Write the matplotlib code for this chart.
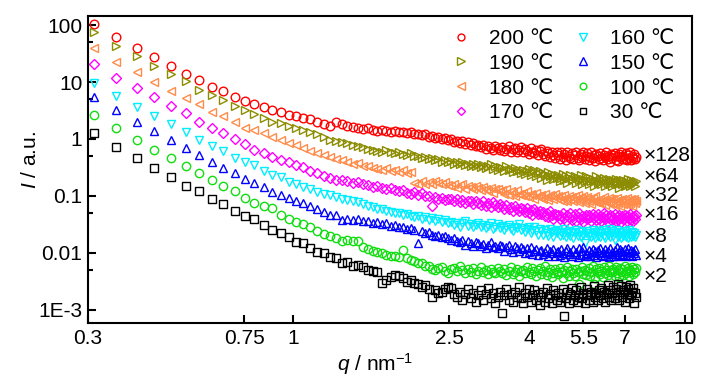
import numpy as np
import matplotlib
matplotlib.use('Agg')
import matplotlib.pyplot as plt
from matplotlib.ticker import FixedLocator, NullLocator

plt.rcParams['font.family'] = ['Liberation Sans', 'DejaVu Sans']
plt.rcParams['mathtext.fontset'] = 'custom'
plt.rcParams['mathtext.it'] = 'Liberation Sans:italic'
plt.rcParams['mathtext.rm'] = 'Liberation Sans'

# scattering vector q (nm^-1)
q = [0.310, 0.354, 0.399, 0.443, 0.487, 0.532, 0.576, 0.620, 0.664, 0.709,
     0.753, 0.797, 0.842, 0.886, 0.930, 0.975, 1.019, 1.063, 1.107, 1.152,
     1.196, 1.240, 1.285, 1.329, 1.373, 1.418, 1.462, 1.506, 1.550, 1.595,
     1.639, 1.683, 1.728, 1.772, 1.816, 1.861, 1.905, 1.949, 1.993, 2.038,
     2.082, 2.126, 2.171, 2.215, 2.259, 2.304, 2.348, 2.392, 2.436, 2.481,
     2.525, 2.569, 2.614, 2.658, 2.702, 2.747, 2.791, 2.835, 2.879, 2.924,
     2.968, 3.012, 3.057, 3.101, 3.145, 3.190, 3.234, 3.278, 3.322, 3.367,
     3.411, 3.455, 3.500, 3.544, 3.588, 3.633, 3.677, 3.721, 3.765, 3.810,
     3.854, 3.898, 3.943, 3.987, 4.031, 4.076, 4.120, 4.164, 4.208, 4.253,
     4.297, 4.341, 4.386, 4.430, 4.474, 4.519, 4.563, 4.607, 4.651, 4.696,
     4.740, 4.784, 4.829, 4.873, 4.917, 4.962, 5.006, 5.050, 5.094, 5.139,
     5.183, 5.227, 5.272, 5.316, 5.360, 5.405, 5.449, 5.493, 5.537, 5.582,
     5.626, 5.670, 5.715, 5.759, 5.803, 5.848, 5.892, 5.936, 5.980, 6.025,
     6.069, 6.113, 6.158, 6.202, 6.246, 6.291, 6.335, 6.379, 6.423, 6.468,
     6.512, 6.556, 6.601, 6.645, 6.689, 6.734, 6.778, 6.822, 6.866, 6.911,
     6.955, 6.999, 7.044, 7.088, 7.132, 7.177, 7.221, 7.265, 7.309, 7.354,
     7.398, 7.442, 7.487]

# intensities (already multiplied by the factor written at the right)
I_200 = [103, 61, 39, 27, 19.3, 14.0, 10.7, 8.3, 6.9, 5.5,
         4.64, 4.11, 3.60, 3.23, 3.01, 2.64, 2.53, 2.31, 2.22, 2.01,
         1.83, 1.71, 1.96, 1.83, 1.66, 1.62, 1.58, 1.52, 1.56, 1.44,
         1.40, 1.45, 1.36, 1.32, 1.38, 1.30, 1.33, 1.27, 1.31, 1.24,
         1.20, 1.16, 1.22, 1.10, 1.13, 1.03, 1.08, 0.98, 1.04, 0.96,
         0.99, 0.90, 0.94, 0.86, 0.92, 0.83, 0.88, 0.78, 0.84, 0.76,
         0.80, 0.72, 0.77, 0.68, 0.75, 0.70, 0.64, 0.74, 0.69, 0.63,
         0.72, 0.62, 0.68, 0.75, 0.60, 0.66, 0.70, 0.58, 0.65, 0.71,
         0.59, 0.67, 0.62, 0.55, 0.69, 0.60, 0.56, 0.65, 0.52, 0.61,
         0.66, 0.54, 0.50, 0.62, 0.57, 0.48, 0.59, 0.53, 0.47, 0.58,
         0.52, 0.45, 0.58, 0.49, 0.55, 0.43, 0.60, 0.50, 0.46, 0.56,
         0.44, 0.53, 0.58, 0.47, 0.42, 0.55, 0.49, 0.60, 0.45, 0.51,
         0.56, 0.43, 0.48, 0.59, 0.46, 0.52, 0.41, 0.54, 0.50, 0.45,
         0.57, 0.47, 0.42, 0.53, 0.49, 0.58, 0.44, 0.51, 0.40, 0.55,
         0.46, 0.52, 0.57, 0.43, 0.50, 0.41, 0.54, 0.48, 0.58, 0.44,
         0.51, 0.45, 0.56, 0.42, 0.53, 0.47, 0.59, 0.43, 0.50, 0.46,
         0.54, 0.44, 0.49]

I_190 = [76, 43.4, 28.6, 19.1, 13.6, 10.4, 7.24, 5.92, 4.83, 3.84,
         3.23, 2.71, 2.36, 2.01, 1.88, 1.71, 1.54, 1.44, 1.34, 1.22,
         1.10, 0.96, 0.92, 0.90, 0.86, 0.80, 0.76, 0.72, 0.68, 0.64,
         0.62, 0.60, 0.63, 0.58, 0.56, 0.59, 0.55, 0.53, 0.56, 0.51,
         0.50, 0.47, 0.49, 0.45, 0.46, 0.42, 0.44, 0.40, 0.43, 0.39,
         0.41, 0.37, 0.39, 0.36, 0.40, 0.35, 0.37, 0.33, 0.36, 0.34,
         0.36, 0.32, 0.35, 0.31, 0.33, 0.37, 0.30, 0.34, 0.29, 0.32,
         0.31, 0.27, 0.33, 0.28, 0.30, 0.26, 0.31, 0.27, 0.29, 0.25,
         0.29, 0.24, 0.27, 0.30, 0.23, 0.26, 0.28, 0.22, 0.25, 0.27,
         0.21, 0.25, 0.23, 0.19, 0.26, 0.22, 0.24, 0.20, 0.23, 0.21,
         0.23, 0.18, 0.21, 0.24, 0.19, 0.22, 0.17, 0.21, 0.23, 0.19,
         0.20, 0.22, 0.17, 0.21, 0.19, 0.23, 0.16, 0.20, 0.18, 0.22,
         0.19, 0.16, 0.21, 0.18, 0.20, 0.15, 0.19, 0.22, 0.17, 0.18,
         0.20, 0.16, 0.18, 0.21, 0.15, 0.19, 0.17, 0.20, 0.16, 0.18,
         0.15, 0.19, 0.17, 0.20, 0.16, 0.18, 0.14, 0.19, 0.17, 0.16,
         0.19, 0.15, 0.18, 0.16, 0.20, 0.17, 0.15, 0.19, 0.16, 0.18,
         0.17, 0.15, 0.18]

I_180 = [39.0, 22.7, 14.8, 10.1, 6.95, 5.31, 4.06, 3.01, 2.56, 2.01,
         1.58, 1.44, 1.26, 1.10, 0.96, 0.86, 0.785, 0.687, 0.624, 0.561,
         0.524, 0.483, 0.446, 0.42, 0.40, 0.37, 0.38, 0.34, 0.33, 0.31,
         0.30, 0.28, 0.31, 0.27, 0.29, 0.26, 0.28, 0.25, 0.26, 0.17,
         0.16, 0.18, 0.165, 0.175, 0.16, 0.185, 0.17, 0.16, 0.175, 0.155,
         0.15, 0.165, 0.14, 0.155, 0.16, 0.135, 0.15, 0.145, 0.13, 0.15,
         0.14, 0.125, 0.145, 0.13, 0.12, 0.14, 0.115, 0.13, 0.135, 0.12,
         0.125, 0.11, 0.13, 0.105, 0.12, 0.115, 0.10, 0.125, 0.11, 0.105,
         0.115, 0.10, 0.12, 0.095, 0.11, 0.105, 0.09, 0.115, 0.10, 0.095,
         0.105, 0.09, 0.11, 0.095, 0.085, 0.105, 0.10, 0.088, 0.11, 0.094,
         0.10, 0.085, 0.098, 0.08, 0.105, 0.09, 0.082, 0.10, 0.088, 0.095,
         0.08, 0.098, 0.087, 0.105, 0.078, 0.092, 0.085, 0.10, 0.076, 0.09,
         0.095, 0.08, 0.088, 0.072, 0.093, 0.083, 0.10, 0.078, 0.086, 0.074,
         0.09, 0.076, 0.085, 0.095, 0.07, 0.083, 0.078, 0.092, 0.073, 0.087,
         0.075, 0.088, 0.07, 0.082, 0.093, 0.074, 0.085, 0.068, 0.08, 0.09,
         0.072, 0.085, 0.078, 0.092, 0.07, 0.083, 0.075, 0.088, 0.068, 0.08,
         0.09, 0.074, 0.082]

I_170 = [20.5, 11.9, 7.94, 5.52, 3.84, 2.82, 2.01, 1.58, 1.26, 1.0,
         0.807, 0.641, 0.575, 0.489, 0.428, 0.40, 0.35, 0.319, 0.278, 0.25,
         0.224, 0.204, 0.191, 0.19, 0.18, 0.17, 0.175, 0.16, 0.155, 0.145,
         0.15, 0.138, 0.13, 0.14, 0.125, 0.12, 0.128, 0.115, 0.108, 0.118,
         0.105, 0.112, 0.098, 0.10, 0.066, 0.097, 0.088, 0.094, 0.085, 0.09,
         0.09, 0.082, 0.087, 0.078, 0.085, 0.074, 0.083, 0.08, 0.072, 0.081,
         0.076, 0.07, 0.08, 0.068, 0.074, 0.065, 0.078, 0.069, 0.063, 0.072,
         0.066, 0.06, 0.07, 0.058, 0.064, 0.055, 0.067, 0.06, 0.054, 0.062,
         0.058, 0.052, 0.061, 0.05, 0.056, 0.047, 0.059, 0.052, 0.049, 0.055,
         0.048, 0.053, 0.045, 0.05, 0.042, 0.055, 0.046, 0.04, 0.049, 0.044,
         0.047, 0.039, 0.045, 0.05, 0.041, 0.036, 0.046, 0.043, 0.051, 0.038,
         0.044, 0.048, 0.037, 0.042, 0.05, 0.039, 0.045, 0.035, 0.043, 0.047,
         0.039, 0.046, 0.042, 0.036, 0.049, 0.041, 0.044, 0.038, 0.048, 0.04,
         0.045, 0.037, 0.043, 0.05, 0.039, 0.046, 0.035, 0.042, 0.047, 0.038,
         0.044, 0.04, 0.048, 0.036, 0.043, 0.038, 0.046, 0.041, 0.035, 0.045,
         0.039, 0.047, 0.042, 0.037, 0.045, 0.04, 0.049, 0.038, 0.043, 0.036,
         0.044, 0.04, 0.046]

I_160 = [9.72, 5.75, 3.69, 2.54, 1.81, 1.34, 0.96, 0.762, 0.615, 0.47,
         0.40, 0.35, 0.278, 0.234, 0.213, 0.178, 0.162, 0.146, 0.131, 0.119,
         0.108, 0.102, 0.095, 0.088, 0.085, 0.082, 0.079, 0.072, 0.068, 0.063,
         0.060, 0.058, 0.055, 0.052, 0.05, 0.05, 0.046, 0.048, 0.044, 0.042,
         0.045, 0.04, 0.043, 0.038, 0.041, 0.037, 0.039, 0.035, 0.038, 0.034,
         0.035, 0.031, 0.034, 0.029, 0.033, 0.036, 0.03, 0.032, 0.028, 0.031,
         0.033, 0.028, 0.031, 0.027, 0.03, 0.034, 0.026, 0.029, 0.032, 0.027,
         0.03, 0.025, 0.028, 0.031, 0.026, 0.024, 0.029, 0.027, 0.032, 0.025,
         0.027, 0.023, 0.026, 0.029, 0.022, 0.025, 0.028, 0.024, 0.021, 0.026,
         0.024, 0.021, 0.025, 0.022, 0.02, 0.026, 0.023, 0.019, 0.024, 0.022,
         0.025, 0.02, 0.023, 0.021, 0.026, 0.019, 0.022, 0.024, 0.02, 0.023,
         0.018, 0.022, 0.025, 0.02, 0.023, 0.019, 0.024, 0.021, 0.015, 0.022,
         0.024, 0.02, 0.022, 0.019, 0.025, 0.021, 0.018, 0.023, 0.02, 0.024,
         0.019, 0.022, 0.025, 0.02, 0.018, 0.023, 0.021, 0.026, 0.019, 0.022,
         0.024, 0.02, 0.017, 0.022, 0.025, 0.019, 0.021, 0.023, 0.018, 0.022,
         0.02, 0.024, 0.019, 0.022, 0.018, 0.025, 0.021, 0.019, 0.023, 0.02,
         0.022, 0.019, 0.021]

I_150 = [5.52, 3.23, 2.01, 1.40, 0.96, 0.703, 0.524, 0.40, 0.313, 0.25,
         0.199, 0.167, 0.142, 0.119, 0.104, 0.091, 0.0828, 0.0745, 0.0668, 0.0585,
         0.0531, 0.0465, 0.0465, 0.0379, 0.040, 0.038, 0.039, 0.036, 0.037, 0.034,
         0.035, 0.032, 0.033, 0.030, 0.031, 0.028, 0.029, 0.026, 0.027, 0.025,
         0.015, 0.024, 0.022, 0.023, 0.021, 0.02, 0.021, 0.019, 0.02, 0.018,
         0.017, 0.018, 0.016, 0.0155, 0.017, 0.014, 0.016, 0.015, 0.0135, 0.0155,
         0.015, 0.013, 0.0145, 0.012, 0.014, 0.0155, 0.0125, 0.0135, 0.012, 0.014,
         0.013, 0.011, 0.0125, 0.014, 0.0115, 0.0105, 0.013, 0.012, 0.0108, 0.0125,
         0.0115, 0.0098, 0.012, 0.0105, 0.0128, 0.0095, 0.011, 0.0118, 0.0092, 0.0108,
         0.0112, 0.0095, 0.0105, 0.0122, 0.009, 0.0108, 0.0098, 0.0118, 0.0088, 0.0102,
         0.011, 0.0092, 0.0118, 0.0098, 0.0085, 0.0107, 0.0122, 0.0094, 0.0103, 0.0088,
         0.0115, 0.0097, 0.0105, 0.0086, 0.012, 0.0093, 0.0109, 0.0125, 0.009, 0.0101,
         0.0096, 0.0113, 0.0087, 0.0104, 0.0119, 0.0091, 0.0107, 0.0084, 0.0112, 0.0098,
         0.0123, 0.0093, 0.0102, 0.0088, 0.0116, 0.0099, 0.0108, 0.0085, 0.012, 0.0095,
         0.0105, 0.009, 0.0114, 0.0097, 0.0126, 0.0089, 0.0103, 0.0118, 0.0092, 0.0108,
         0.0095, 0.0117, 0.0088, 0.0106, 0.0121, 0.0093, 0.0102, 0.0113, 0.0087, 0.011,
         0.0098, 0.0115, 0.0093]

I_100 = [2.64, 1.54, 0.96, 0.641, 0.458, 0.34, 0.25, 0.191, 0.152, 0.122,
         0.0933, 0.0763, 0.0668, 0.0608, 0.0465, 0.039, 0.0354, 0.0323, 0.0289, 0.0246,
         0.0215, 0.0199, 0.0181, 0.0165, 0.0172, 0.0165, 0.016, 0.0125, 0.0115, 0.011,
         0.0105, 0.0098, 0.0093, 0.009, 0.0087, 0.0084, 0.0113, 0.0082, 0.0076, 0.0072,
         0.0066, 0.0068, 0.006, 0.0058, 0.0052, 0.005, 0.0055, 0.0057, 0.0049, 0.0045,
         0.0053, 0.0055, 0.0048, 0.0058, 0.0051, 0.0045, 0.0052, 0.0047, 0.0054, 0.0043,
         0.0049, 0.0056, 0.0046, 0.0051, 0.0042, 0.0053, 0.0047, 0.0044, 0.0055, 0.0048,
         0.0045, 0.0052, 0.0041, 0.0049, 0.0056, 0.0043, 0.0047, 0.0053, 0.004, 0.0048,
         0.0051, 0.0044, 0.0057, 0.0046, 0.0042, 0.0054, 0.0048, 0.0039, 0.005, 0.0055,
         0.0043, 0.0049, 0.0058, 0.0041, 0.0047, 0.0052, 0.0038, 0.0045, 0.0053, 0.0046,
         0.0042, 0.0055, 0.0047, 0.0036, 0.005, 0.0044, 0.0057, 0.004, 0.0048, 0.0052,
         0.0045, 0.0039, 0.0053, 0.0047, 0.0028, 0.0049, 0.0056, 0.0043, 0.0051, 0.0041,
         0.0048, 0.0054, 0.0039, 0.0046, 0.0058, 0.0028, 0.0037, 0.0052, 0.0047, 0.0055,
         0.0043, 0.0049, 0.0038, 0.0056, 0.0045, 0.0051, 0.0041, 0.0059, 0.0046, 0.005,
         0.0047, 0.0053, 0.004, 0.0057, 0.0044, 0.005, 0.0038, 0.0055, 0.0046, 0.0052,
         0.0041, 0.0058, 0.0045, 0.0049, 0.0054, 0.0039, 0.0051, 0.0047, 0.0056, 0.0043,
         0.0052, 0.0046, 0.0055]

I_30 = [1.26, 0.733, 0.47, 0.313, 0.215, 0.152, 0.124, 0.0875, 0.0715, 0.0546,
        0.0446, 0.039, 0.031, 0.0253, 0.0222, 0.0193, 0.0158, 0.0148, 0.0121, 0.0105,
        0.0099, 0.0086, 0.0082, 0.0066, 0.007, 0.0059, 0.0062, 0.0057, 0.005, 0.0048,
        0.0047, 0.003, 0.0034, 0.0038, 0.0041, 0.004, 0.0036, 0.0031, 0.0033, 0.003,
        0.0029, 0.0025, 0.0027, 0.0023, 0.0017, 0.0022, 0.002, 0.0021, 0.0023, 0.0025,
        0.0024, 0.0019, 0.0017, 0.0021, 0.0015, 0.0019, 0.0023, 0.0016, 0.002, 0.0014,
        0.0018, 0.0022, 0.0015, 0.0019, 0.0024, 0.0016, 0.002, 0.0013, 0.0017, 0.0021,
        0.0009, 0.0018, 0.0023, 0.0015, 0.0019, 0.0014, 0.0021, 0.0017, 0.0025, 0.0016,
        0.0013, 0.002, 0.0017, 0.0023, 0.0014, 0.0018, 0.0022, 0.0015, 0.0019, 0.0012,
        0.0017, 0.0021, 0.0014, 0.0024, 0.0016, 0.0019, 0.0013, 0.0022, 0.0018, 0.0015,
        0.002, 0.0014, 0.0017, 0.0023, 0.00078, 0.0016, 0.0021, 0.0013, 0.0019, 0.0024,
        0.0015, 0.0018, 0.0022, 0.0014, 0.0017, 0.0025, 0.0016, 0.002, 0.0013, 0.0019,
        0.0023, 0.0015, 0.0018, 0.0021, 0.0014, 0.0026, 0.0017, 0.002, 0.0015, 0.0022,
        0.0018, 0.0024, 0.0016, 0.0021, 0.0014, 0.0019, 0.0027, 0.0017, 0.0022, 0.0015,
        0.002, 0.0025, 0.0016, 0.0023, 0.0018, 0.0028, 0.0015, 0.0021, 0.0026, 0.0017,
        0.0022, 0.0014, 0.0025, 0.0019, 0.0023, 0.0016, 0.0027, 0.0018, 0.0021, 0.0024,
        0.0013, 0.002, 0.0017]

temps = ['200 ℃', '190 ℃', '180 ℃', '170 ℃', '160 ℃', '150 ℃', '100 ℃', '30 ℃']
factors = ['×128', '×64', '×32', '×16', '×8', '×4', '×2']
factor_y = [0.52, 0.224, 0.104, 0.0465, 0.0191, 0.0085, 0.0038]

data = [I_200, I_190, I_180, I_170, I_160, I_150, I_100, I_30]
for d in data:
    assert len(d) == len(q), len(d)

markers = ['o', '>', '<', 'D', 'v', '^', 'o', 's']
colors = ['#ff0000', '#8c8c00', '#ff8c4a', '#ff00ff', '#00eeff', '#0000ff', '#11dd11', '#000000']
sizes = [6.2, 6.4, 6.4, 5.2, 6.4, 6.4, 6.0, 5.2]
fs = 15

fig = plt.figure(figsize=(7.28, 3.9), dpi=100)
ax = fig.add_axes([88/728, 1 - 323/390, 604/728, 307/390])

for d, m, c, s, lab in zip(data, markers, colors, sizes, temps):
    ax.plot(q, d, ls='none', marker=m, mfc='none', mec=c, ms=s, mew=1.0, label=lab)

ax.set_xscale('log')
ax.set_yscale('log')
ax.set_xlim(0.3, 10.4)
ax.set_ylim(5.9e-4, 144)

ax.xaxis.set_major_locator(FixedLocator([0.3, 0.75, 1, 2.5, 4, 5.5, 7, 10]))
ax.set_xticklabels(['0.3', '0.75', '1', '2.5', '4', '5.5', '7', '10'])
ax.xaxis.set_minor_locator(NullLocator())
ax.yaxis.set_major_locator(FixedLocator([1e-3, 1e-2, 1e-1, 1, 10, 100]))
ax.set_yticklabels(['1E-3', '0.01', '0.1', '1', '10', '100'])
ax.yaxis.set_minor_locator(FixedLocator([5e-3, 5e-2, 0.5, 5, 50]))

ax.tick_params(which='major', direction='in', length=6, width=1.5, labelsize=fs, pad=4)
ax.tick_params(which='minor', direction='in', length=3.5, width=1.5)
for sp in ax.spines.values():
    sp.set_linewidth(1.5)

for lab, y in zip(factors, factor_y):
    ax.text(7.82, y, lab, fontsize=fs, ha='left', va='center')

ax.set_ylabel('$I$ / a.u.', fontsize=fs)
ax.yaxis.set_label_coords(-0.079, 0.53)
ax.set_xlabel('$q$ / nm$^{-1}$', fontsize=fs)
ax.xaxis.set_label_coords(0.475, -0.092)

ax.legend(ncol=2, loc='upper left', bbox_to_anchor=(0.601, 0.958), frameon=False,
          fontsize=fs, handlelength=1.0, handletextpad=0.8, columnspacing=0.95,
          labelspacing=0.28, borderpad=0, borderaxespad=0, markerscale=0.8)

fig.savefig('out.png', dpi=100)
